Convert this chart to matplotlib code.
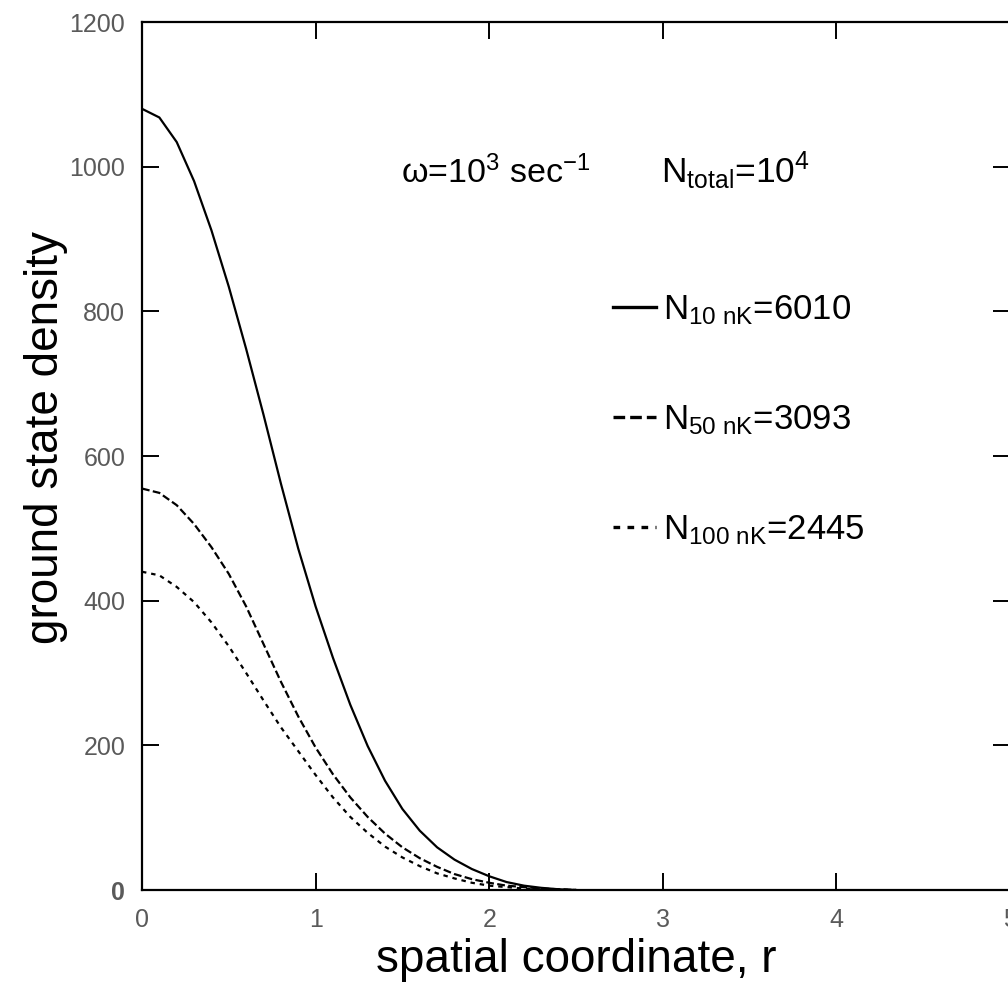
import matplotlib
matplotlib.use('Agg')
import matplotlib.pyplot as plt

# ---- data ----
r = [0.0, 0.1, 0.2, 0.3, 0.4, 0.5, 0.6, 0.7, 0.8, 0.9, 1.0, 1.1, 1.2,
     1.3, 1.4, 1.5, 1.6, 1.7, 1.8, 1.9, 2.0, 2.1, 2.2, 2.3, 2.4, 2.5]
n_10nK = [1080, 1068, 1034, 980, 912, 834, 748, 657, 562, 472, 392, 321, 256,
          199, 151, 112, 82, 59, 42, 29, 19, 11, 6, 3, 1, 0]
n_50nK = [555, 549, 532, 506, 474, 437, 392, 340, 288, 240, 197, 160, 128,
          101, 78, 59, 44, 32, 22, 15, 10, 6, 4, 2, 1, 0]
n_100nK = [440, 435, 419, 398, 370, 337, 300, 262, 225, 192, 159, 128, 101,
           79, 60, 45, 33, 23, 16, 10, 6, 4, 2, 1, 0.5, 0]

labels = [r'$\mathregular{N_{10\ nK}}$=6010',
          r'$\mathregular{N_{50\ nK}}$=3093',
          r'$\mathregular{N_{100\ nK}}$=2445']
xticks = [0, 1, 2, 3, 4, 5]
yticks = [0, 200, 400, 600, 800, 1000, 1200]

plt.rcParams['font.family'] = ['Liberation Sans', 'DejaVu Sans']
plt.rcParams['mathtext.fontset'] = 'custom'
plt.rcParams['mathtext.rm'] = 'Liberation Sans'
plt.rcParams['mathtext.it'] = 'Liberation Sans:italic'
plt.rcParams['mathtext.bf'] = 'Liberation Sans:bold'

W, H = 1008, 985
fig = plt.figure(figsize=(W / 100, H / 100), dpi=100)
ax = fig.add_axes([142 / W, 95 / H, 868 / W, 868 / H])

l1, = ax.plot(r, n_10nK, color='black', lw=1.6, ls='-')
l2, = ax.plot(r, n_50nK, color='black', lw=1.6, ls=(0, (3.5, 1.5)))
l3, = ax.plot(r, n_100nK, color='black', lw=1.6, ls=(0, (2, 2.2)))

ax.set_xlim(0, 5)
ax.set_ylim(0, 1200)
ax.set_xticks(xticks)
ax.set_xticklabels([str(t) for t in xticks])
ax.set_yticks(yticks)
ylabs = ax.set_yticklabels([str(t) for t in yticks])
ylabs[0].set_color('black')
ylabs[0].set_fontweight('bold')

for s in ax.spines.values():
    s.set_linewidth(1.6)
ax.tick_params(direction='in', length=12, width=1.4, top=True, right=True,
               labelsize=18, labelcolor='#5a5a5a')
ax.tick_params(axis='y', pad=12)
ax.tick_params(axis='x', pad=13)

ax.set_xlabel('spatial coordinate, r', fontsize=33, labelpad=4)
ax.set_ylabel('ground state density', fontsize=33)
ax.yaxis.set_label_coords(-0.085, 0.521)

ax.text(1.49, 977, r'ω=10$^{\mathregular{3}}$ sec$^{\mathregular{-1}}$',
        fontsize=24.5, ha='left', va='baseline')
ax.text(2.99, 977, r'$\mathregular{N_{total}}$=10$^{\mathregular{4}}$',
        fontsize=25.5, ha='left', va='baseline')

leg = ax.legend([l1, l2, l3], labels, loc='upper left',
                bbox_to_anchor=(613 / W, 1 - 293 / H), bbox_transform=fig.transFigure,
                frameon=False, fontsize=25, handlelength=1.25, handletextpad=0.2,
                labelspacing=2.2, borderpad=0, borderaxespad=0)
for h in leg.get_lines():
    h.set_linewidth(2.4)

fig.savefig('out.png', dpi=100)
